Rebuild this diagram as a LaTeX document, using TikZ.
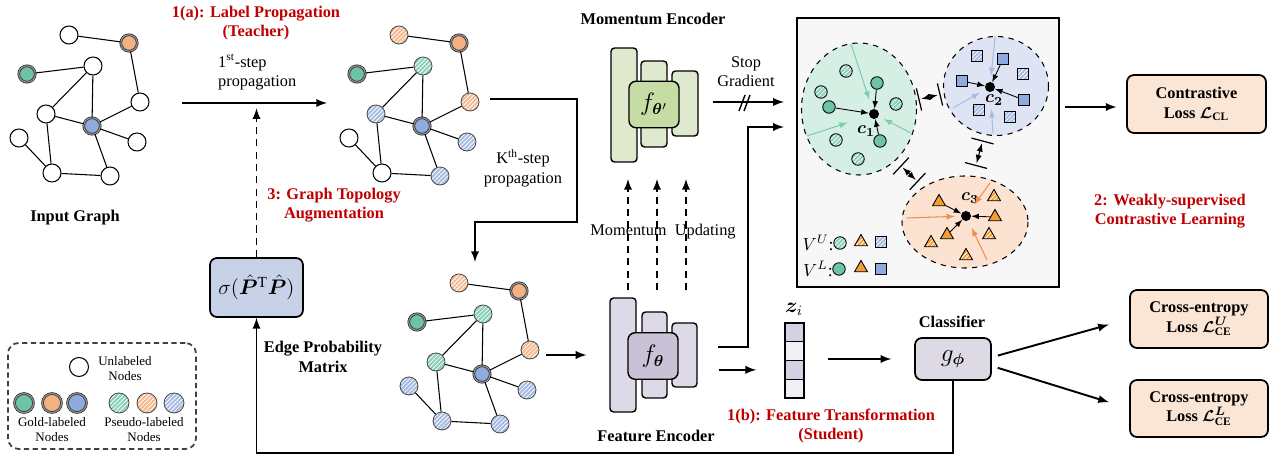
\documentclass[tikz,border=0pt]{standalone}
\usepackage{fontspec}
\setmainfont{Liberation Serif}
\usepackage{amsmath,bm}
\usetikzlibrary{calc,shapes.geometric,patterns.meta}

\definecolor{ggreen}{HTML}{6CC4A4}
\definecolor{gorange}{HTML}{F4B183}
\definecolor{gblue}{HTML}{8FAADC}
\definecolor{torange}{HTML}{F59D33}
\definecolor{redtxt}{HTML}{C00000}
\definecolor{feback}{HTML}{DDD9E7}
\definecolor{fefront}{HTML}{C9C1D6}
\definecolor{meback}{HTML}{DEE9CE}
\definecolor{mefront}{HTML}{C6DCA5}
\definecolor{sigfill}{HTML}{C7D2E9}
\definecolor{clffill}{HTML}{DDD9E5}
\definecolor{lossfill}{HTML}{FBE5D5}
\definecolor{zdark}{HTML}{D5D0E2}
\definecolor{zlight}{HTML}{F0EFF5}
\definecolor{clgreen}{HTML}{D6EFE4}
\definecolor{clblue}{HTML}{DEE4F3}
\definecolor{clorange}{HTML}{FCE3D1}
\definecolor{argreen}{HTML}{7FCDB0}
\definecolor{arblue}{HTML}{A9BCE2}
\definecolor{arorange}{HTML}{F28D4F}

\newcommand{\figfont}{\fontsize{9.3}{11}\selectfont}
\newcommand{\posx}{{69,129,27,93,140,46,92,19,137,52,110}}
\newcommand{\posy}{{35,43,74,66,102,114,126,138,142,173,176}}
\newcommand{\drawgraph}[2]{%
  \foreach \s [count=\i] in {#2} {
    \pgfmathsetmacro{\gpx}{\posx[\i-1]}
    \pgfmathsetmacro{\gpy}{\posy[\i-1]}
    \node[\s] (#1\i) at (\gpx,\gpy) {};
  }
  \foreach \a/\b in {1/2,2/5,3/4,4/6,4/7,5/7,6/7,7/9,7/11,6/10,8/10,10/11}
    \draw[gedge] (#1\a) -- (#1\b);
}

\begin{document}
\begin{tikzpicture}[>=latex, x=0.02cm, y=-0.02cm, font=\figfont,
    unl/.style={circle, draw, fill=white, line width=0.6pt, minimum size=0.36cm, inner sep=0pt},
    gold/.style={circle, draw=black!80, fill=#1, double=black!40, double distance=0.6pt, line width=0.45pt, minimum size=0.33cm, inner sep=0pt},
    goldG/.style={gold=ggreen}, goldO/.style={gold=gorange}, goldB/.style={gold=gblue},
    hatch/.style={preaction={fill=#1}, pattern={Lines[angle=45,distance=1.7pt,line width=0.45pt]}, pattern color=white},
    pseudo/.style={circle, draw=black!70, line width=0.5pt, minimum size=0.36cm, inner sep=0pt, hatch=#1},
    psG/.style={pseudo=ggreen!80}, psO/.style={pseudo=gorange!90}, psB/.style={pseudo=gblue!80},
    gedge/.style={line width=0.6pt},
    flow/.style={->, line width=1.1pt},
    dashflow/.style={flow, dash pattern=on 4pt off 3pt},
    encbar/.style={draw, rounded corners=2pt, line width=0.8pt, fill=#1, inner sep=0pt},
    encbox/.style={draw, rounded corners=4pt, line width=0.8pt, fill=#1, minimum width=1cm, minimum height=0.93cm, font=\fontsize{13.5}{13.5}\selectfont},
    rbox/.style={draw, rounded corners=4pt, line width=1pt, fill=#1, align=center},
    redlab/.style={text=redtxt, font=\figfont\bfseries, align=center},
    boldlab/.style={font=\figfont\bfseries, align=center},
    legtext/.style={font=\fontsize{7.4}{8.5}\selectfont, align=center},
    zcell/.style={draw, fill=#1, line width=0.8pt, minimum width=0.38cm, minimum height=0.375cm, inner sep=0pt},
    % cluster items
    gsol/.style={circle, draw, fill=ggreen, line width=0.5pt, minimum size=0.25cm, inner sep=0pt},
    gpse/.style={circle, draw, line width=0.5pt, minimum size=0.25cm, inner sep=0pt, hatch=ggreen!80},
    bsol/.style={rectangle, draw, fill=gblue, line width=0.5pt, minimum size=0.22cm, inner sep=0pt},
    bpse/.style={rectangle, draw, line width=0.5pt, minimum size=0.22cm, inner sep=0pt, hatch=gblue!80},
    osol/.style={regular polygon, regular polygon sides=3, draw, fill=torange, line width=0.5pt, minimum size=0.3cm, inner sep=0pt},
    opse/.style={regular polygon, regular polygon sides=3, draw, line width=0.5pt, minimum size=0.3cm, inner sep=0pt, hatch=torange},
    cdot/.style={circle, fill=black, minimum size=0.2cm, inner sep=0pt},
    inarrow/.style={->, line width=0.6pt, draw=#1},
    clsep/.style={<->, dashed, line width=0.6pt, shorten <=1.5pt, shorten >=1.5pt}]
    \useasboundingbox (0,0) rectangle (1276,455);

    % graphs
    \drawgraph{g}{unl,goldO,goldG,unl,unl,unl,goldB,unl,unl,unl,unl}
    \begin{scope}[shift={(330,0)}]
        \drawgraph{p}{psO,goldO,goldG,psG,psO,psB,goldB,unl,psB,unl,psB}
    \end{scope}
    \begin{scope}[shift={(390,248)}]
        \drawgraph{k}{psO,goldO,goldG,psG,psO,psG,goldB,psB,psB,psB,psB}
    \end{scope}
    \node[boldlab] (igtxt) at (75,218) {Input Graph};
    \node[redlab] (lp) at (256,23) {1(a): Label Propagation\\(Teacher)};
    \node[align=left, anchor=west] (st1) at (212,72) {1\textsuperscript{st}-step\\propagation};
    \node[align=center] (stk) at (523,168) {K\textsuperscript{th}-step\\propagation};
    \node[redlab] (gta) at (334,205) {3: Graph Topology\\Augmentation};
    \node[boldlab] (epm) at (323,357) {Edge Probability\\Matrix};

    % momentum encoder
    \node[encbar=meback, minimum width=0.52cm, minimum height=2.28cm] (me1) at (624,105) {};
    \node[encbar=meback, minimum width=0.52cm, minimum height=1.72cm] (me2) at (654,104) {};
    \node[encbar=meback, minimum width=0.52cm, minimum height=1.3cm] (me3) at (685,103.5) {};
    \node[encbox=mefront] (meb) at (654,104.5) {$f_{\bm{\theta}'}$};
    \node[boldlab] (metxt) at (653,19) {Momentum Encoder};

    % feature encoder
    \node[encbar=feback, minimum width=0.52cm, minimum height=2.28cm] (fe1) at (623,355) {};
    \node[encbar=feback, minimum width=0.5cm, minimum height=1.72cm] (fe2) at (654.5,355) {};
    \node[encbar=feback, minimum width=0.5cm, minimum height=1.28cm] (fe3) at (684.5,355) {};
    \node[encbox=fefront] (feb) at (653,356) {$f_{\bm{\theta}}$};
    \node[boldlab] (fetxt) at (656,436) {Feature Encoder};

    \foreach \x in {628,657,686}
        \draw[dashflow] (\x,290) -- (\x,179);
    \node (mu) at (663,232) {Momentum~~Updating};

    % boxes
    \node[rbox=sigfill, minimum width=1.86cm, minimum height=1.18cm, font=\fontsize{12.5}{12.5}\selectfont] (sig) at (256.5,287.5) {$\sigma(\hat{\bm{P}}^{\mathrm{T}}\hat{\bm{P}})$};
    \node[rbox=clffill, minimum width=1.52cm, minimum height=0.84cm, font=\fontsize{13.5}{13.5}\selectfont] (clf) at (953,359) {$g_{\bm{\phi}}$};
    \node[boldlab] (clftxt) at (952,322) {Classifier};
    \node[rbox=lossfill, boldlab, minimum width=2.78cm, minimum height=1.16cm] (lcl) at (1196.5,104) {Contrastive\\Loss $\bm{\mathcal{L}}_{\textbf{CL}}$};
    \node[rbox=lossfill, boldlab, minimum width=2.76cm, minimum height=1.16cm] (lceu) at (1199,319) {Cross-entropy\\Loss $\bm{\mathcal{L}}^{\bm{U}}_{\textbf{CE}}$};
    \node[rbox=lossfill, boldlab, minimum width=2.76cm, minimum height=1.14cm] (lcel) at (1199,408.5) {Cross-entropy\\Loss $\bm{\mathcal{L}}^{\bm{L}}_{\textbf{CE}}$};
    \node[redlab] (wcl) at (1170,211) {2: Weakly-supervised\\Contrastive Learning};
    \node[redlab] (ftr) at (831,426) {1(b): Feature Transformation\\(Student)};

    \foreach \k/\c in {1/zdark,2/zlight,3/zdark,4/zlight}
        \node[zcell=\c] (z\k) at (794.5,313.6+18.75*\k) {};
    \node[font=\fontsize{12}{12}\selectfont] (zlab) at (794,309) {$\bm{z}_i$};

    % contrastive space
    \node[draw, line width=0.9pt, fill=black!3, minimum width=5.24cm, minimum height=5.38cm] (cl) at (928,152.5) {};
    \draw[dashed, fill=clgreen, line width=0.6pt] (859,109) ellipse [x radius=57.5, y radius=66];
    \draw[dashed, fill=clblue, line width=0.6pt] (996,86) ellipse [x radius=52.5, y radius=49.5];
    \draw[dashed, fill=clorange, line width=0.6pt] (965,222) ellipse [x radius=63, y radius=46];
    \node[cdot] (c1) at (874,114) {};
    \node[cdot] (c2) at (990,87) {};
    \node[cdot] (c3) at (966,216) {};
    \node[font=\fontsize{10}{10}\selectfont] (c1l) at (866,131) {$\bm{c}_{\bm{1}}$};
    \node[font=\fontsize{10}{10}\selectfont] (c2l) at (994,100) {$\bm{c}_{\bm{2}}$};
    \node[font=\fontsize{10}{10}\selectfont] (c3l) at (970,198) {$\bm{c}_{\bm{3}}$};

    % connectors
    \coordinate (s1a) at (182,103);
    \coordinate (s1b) at (327,103);
    \draw[flow] (s1a) -- (s1b);
    \draw[dashflow, shorten >=3pt] (sig.north) -- (sig.north |- s1b);
    \coordinate (ks) at (490,99);
    \coordinate (kc) at (577,222);
    \coordinate (ke) at (475,262);
    \draw[flow] (ks) -| (kc) -| (ke);
    \draw[flow, shorten <=4pt, shorten >=13pt] (k5.east |- fe1.west) -- (fe1.west);
    \coordinate (fo) at (718,347);
    \coordinate (fc) at (748,127);
    \draw[flow, shorten >=7pt] (fo) -| (fc) -- (cl.west |- fc);
    \coordinate (sgs) at (713,102);
    \draw[flow, shorten >=7pt] (sgs) -- (cl.west |- sgs);
    \draw[line width=0.8pt] (739,111) -- (745,95) (744,111) -- (750,95);
    \node[align=center] (sg) at (746,72) {Stop\\Gradient};
    \draw[flow, shorten <=12pt, shorten >=16pt] (fe3.east |- z3) -- (z3.west);
    \draw[flow, shorten <=13.5pt, shorten >=13pt] (z2.east |- clf) -- (clf.west);
    \draw[flow, shorten <=3.5pt, shorten >=12pt] ([yshift=1pt]clf.east) -- (lceu.west);
    \draw[flow, shorten <=3.5pt, shorten >=12pt] ([yshift=-4pt]clf.east) -- (lcel.west);
    \draw[flow] (clf.south) -- ++(0,72) -| (sig.south);
    \coordinate (co) at (1065,107);
    \draw[flow, shorten >=5.5pt] (co) -- (lcl.west |- co);

    % cluster members
    \foreach \i/\x/\y in {1/846/71,2/821/92,3/896/104,4/836/140,5/858/159}
        \node[gpse] (gp\i) at (\x,\y) {};
    \foreach \i/\x/\y in {1/977/56,2/1023/74,3/979/110,4/1010/117}
        \node[bpse] (bp\i) at (\x,\y) {};
    \foreach \i/\x/\y in {1/994/197,2/931/243,3/989/235,4/966/256}
        \node[opse] (op\i) at (\x,\y) {};
    \foreach \i/\x/\y in {1/877/83,2/829/107,3/880/141} {
        \node[gsol] (gs\i) at (\x,\y) {};
        \draw[->, line width=0.5pt] (gs\i) -- (c1);
    }
    \foreach \i/\x/\y in {1/1003/59,2/962/81,3/1024/100} {
        \node[bsol] (bs\i) at (\x,\y) {};
        \draw[->, line width=0.5pt] (bs\i) -- (c2);
    }
    \foreach \i/\x/\y in {1/939/202,2/995/217,3/947/235} {
        \node[osol] (os\i) at (\x,\y) {};
        \draw[->, line width=0.5pt] (os\i) -- (c3);
    }

    \coordinate (ga1) at (851,44);  \coordinate (ga2) at (807,136); \coordinate (ga3) at (911,133);
    \coordinate (ba1) at (995,37);  \coordinate (ba2) at (953,108); \coordinate (ba3) at (993,133);
    \coordinate (oa1) at (990,183); \coordinate (oa2) at (907,218); \coordinate (oa3) at (987,260);
    \draw[inarrow=argreen, shorten >=5.6pt] (ga1) -- (c1);
    \draw[inarrow=argreen, shorten >=12.8pt] (ga2) -- (c1);
    \draw[inarrow=argreen, shorten >=3.3pt] (ga3) -- (c1);
    \draw[inarrow=arblue, shorten >=3.4pt] (ba1) -- (c2);
    \draw[inarrow=arblue, shorten >=3.6pt] (ba2) -- (c2);
    \draw[inarrow=arblue, shorten >=9.7pt] (ba3) -- (c2);
    \draw[inarrow=arorange, shorten >=5.2pt] (oa1) -- (c3);
    \draw[inarrow=arorange, shorten >=3.4pt] (oa2) -- (c3);
    \draw[inarrow=arorange, shorten >=4.5pt] (oa3) -- (c3);

    \coordinate (gb1) at (919,99.5);  \coordinate (gb2) at (940,94.5);
    \coordinate (go1) at (901,166);   \coordinate (go2) at (917.5,181.5);
    \coordinate (bo1) at (982.5,141); \coordinate (bo2) at (976,165.5);
    \foreach \p/\q in {gb1/gb2,go1/go2,bo1/bo2} {
        \draw[clsep] (\p) -- (\q);
        \draw[line width=0.7pt] ($(\p)!6.5pt!90:(\q)$) -- ($(\p)!6.5pt!-90:(\q)$);
        \draw[line width=0.7pt] ($(\q)!6.5pt!90:(\p)$) -- ($(\q)!6.5pt!-90:(\p)$);
    }

    \node[font=\fontsize{10}{10}\selectfont] (vu) at (818,243) {$V^{U}$:};
    \node[gpse] (vu1) at (840,243) {};
    \node[opse] (vu2) at (861,242) {};
    \node[bpse] (vu3) at (881,242) {};
    \node[font=\fontsize{10}{10}\selectfont] (vl) at (818,269) {$V^{L}$:};
    \node[gsol] (vl1) at (839,269) {};
    \node[osol] (vl2) at (861,268) {};
    \node[bsol] (vl3) at (881,269) {};

    % legend
    \node[draw=black!75, dash pattern=on 3pt off 2pt, rounded corners=6pt, line width=1pt, minimum width=3.76cm, minimum height=2.12cm] (leg) at (102,396) {};
    \node[unl, minimum size=0.38cm] (lu) at (79,367) {};
    \node[legtext] (lutxt) at (125,369) {Unlabeled\\Nodes};
    \node[goldG, minimum size=0.38cm] (lg1) at (24,403) {};
    \node[goldO, minimum size=0.38cm] (lg2) at (52,403) {};
    \node[goldB, minimum size=0.38cm] (lg3) at (77,403) {};
    \node[psG, minimum size=0.4cm] (lp1) at (119,403) {};
    \node[psO, minimum size=0.4cm] (lp2) at (147,403) {};
    \node[psB, minimum size=0.4cm] (lp3) at (174,403) {};
    \node[legtext] (lgtxt) at (52,430) {Gold-labeled\\Nodes};
    \node[legtext] (lptxt) at (144,430) {Pseudo-labeled\\Nodes};
\end{tikzpicture}
\end{document}
